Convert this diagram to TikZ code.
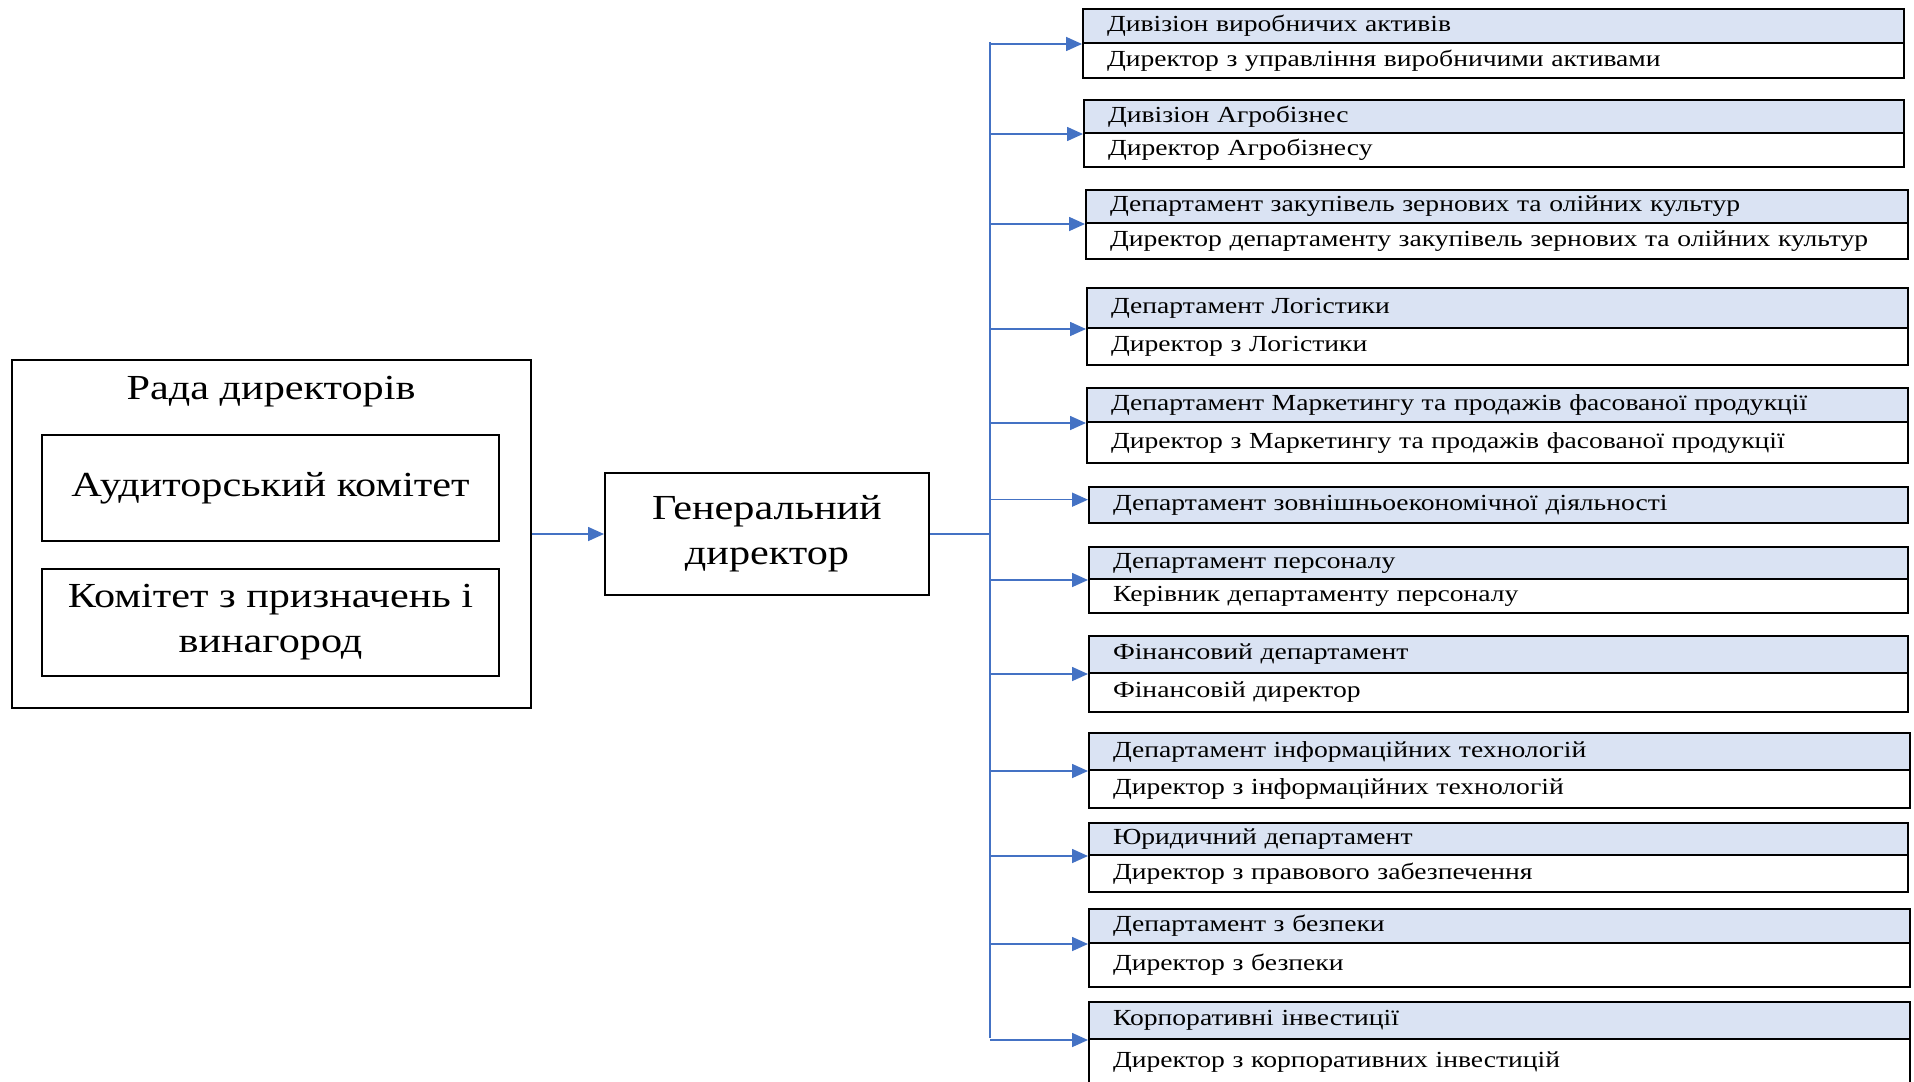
\documentclass[tikz,border=0pt]{standalone}
\usepackage{fontspec}
\setmainfont{Liberation Serif}[FakeStretch=1.2]
\usetikzlibrary{arrows.meta,calc}
\definecolor{hdrblue}{HTML}{DAE3F3}
\definecolor{connblue}{HTML}{4472C4}
\tikzset{
  hdr/.style={draw=black, line width=1pt, fill=hdrblue, anchor=north west, inner xsep=12pt, inner ysep=0pt, align=left, font=\fontsize{11.5}{13}\selectfont},
  subbox/.style={draw=black, line width=1pt, fill=white, anchor=north west, inner xsep=12pt, inner ysep=0pt, align=left, font=\fontsize{11.5}{13}\selectfont},
  bigbox/.style={draw=black, line width=1pt, inner sep=0pt, align=center, font=\fontsize{17.6}{22.5}\selectfont},
  conn/.style={draw=connblue, line width=0.8pt},
  arr/.style={conn, -{Triangle[length=8pt,width=7pt]}}
}
\newcommand\deptbox[8]{%
  \pgfmathsetmacro\bw{(#6-#2)*0.5}%
  \pgfmathsetmacro\tw{(#6-#2)*0.5-24}%
  \pgfmathsetmacro\hh{(#4-#3)*0.5}%
  \pgfmathsetmacro\sh{(#5-#4)*0.5}%
  \node[hdr, minimum width=\bw pt, minimum height=\hh pt, text width=\tw pt] (h#1) at (#2,#3) {#7};
  \node[subbox, minimum width=\bw pt, minimum height=\sh pt, text width=\tw pt] (s#1) at (#2,#4) {#8};
}
\begin{document}
\begin{tikzpicture}[x=0.5pt,y=-0.5pt]
\useasboundingbox (0,0) rectangle (1914,1081);

% left group
\node[bigbox, minimum width=259.5pt, minimum height=174pt] (rada) at (271.5,534) {};
\node[font=\fontsize{17.6}{20}\selectfont] (radat) at (271,392) {Рада директорів};
\node[bigbox, minimum width=228.5pt, minimum height=53pt] (audit) at (270.5,488) {Аудиторський комітет};
\node[bigbox, minimum width=228.5pt, minimum height=53.5pt] (nomin) at (270.5,622.5) {Комітет з призначень і\\винагород};
\node[bigbox, minimum width=162pt, minimum height=61pt] (gen) at (767,534) {Генеральний\\директор};

% right group
\deptbox{1}{1082}{8}{42}{77}{1903}{Дивізіон виробничих активів}{Директор з управління виробничими активами}
\deptbox{2}{1083}{99}{132}{166}{1903}{Дивізіон Агробізнес}{Директор Агробізнесу}
\deptbox{3}{1085}{189}{222}{258}{1907}{Департамент закупівель зернових та олійних культур}{Директор департаменту закупівель зернових та олійних культур}
\deptbox{4}{1086}{287}{327}{364}{1907}{Департамент Логістики}{Директор з Логістики}
\deptbox{5}{1086}{387}{421}{462}{1907}{Департамент Маркетингу та продажів фасованої продукції}{Директор з Маркетингу та продажів фасованої продукції}
\node[hdr, minimum width=409.5pt, minimum height=18pt, text width=385.5pt] (h6) at (1088,486) {Департамент зовнішньоекономічної діяльності};
\deptbox{7}{1088}{546}{578}{612}{1907}{Департамент персоналу}{Керівник департаменту персоналу}
\deptbox{8}{1088}{635}{672}{711}{1907}{Фінансовий департамент}{Фінансовій директор}
\deptbox{9}{1088}{732}{769}{807}{1909}{Департамент інформаційних технологій}{Директор з інформаційних технологій}
\deptbox{10}{1088}{822}{854}{891}{1907}{Юридичний департамент}{Директор з правового забезпечення}
\deptbox{11}{1088}{908}{942}{986}{1909}{Департамент з безпеки}{Директор з безпеки}
\deptbox{12}{1088}{1001}{1038}{1085}{1909}{Корпоративні інвестиції}{Директор з корпоративних інвестицій}

% connectors
\coordinate (ttop) at (990,42);
\coordinate (tbot) at (990,1038);
\draw[arr] (rada.east) -- (gen.west);
\draw[conn] (gen.east) -- (gen.east -| ttop);
\draw[conn] (ttop) -- (tbot);
\foreach \i in {1,2,3,4,5,7,8,9,10,11,12}
  \draw[arr] (h\i.south west -| ttop) -- (h\i.south west);
\coordinate (a6) at ($(h6.north west)!0.36!(h6.south west)$);
\draw[arr] (a6 -| ttop) -- (a6);
\end{tikzpicture}
\end{document}
